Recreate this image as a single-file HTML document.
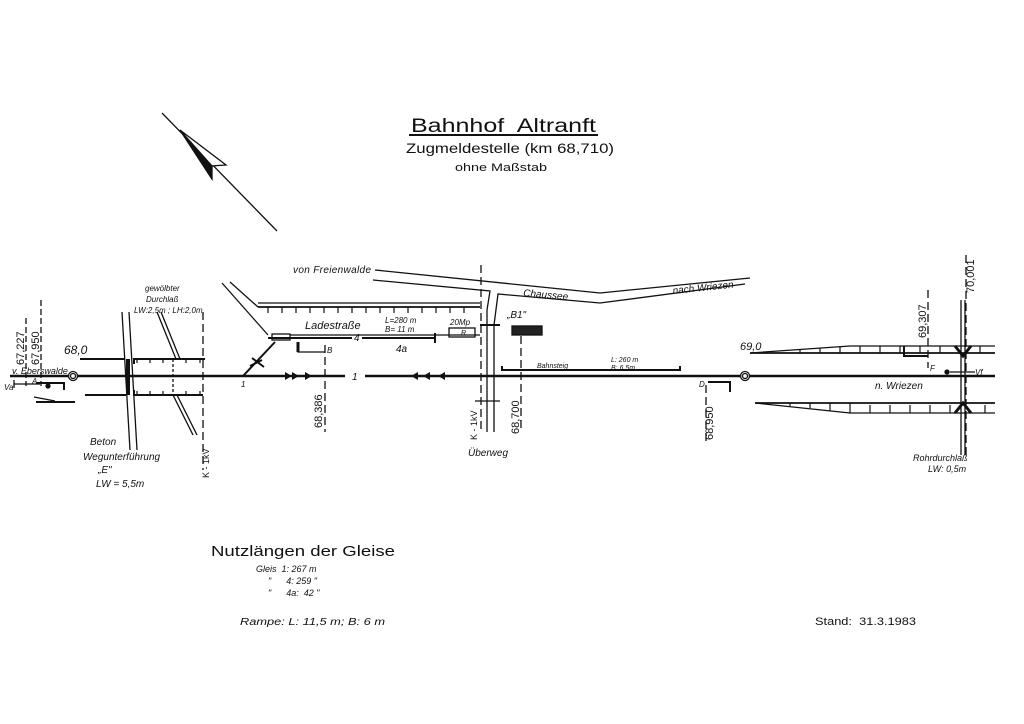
<!DOCTYPE html>
<html><head><meta charset="utf-8"><style>
html,body{margin:0;padding:0;background:#fff;}
svg{display:block;}
text{font-family:"Liberation Sans",sans-serif;fill:#111;white-space:pre;}
.i{font-style:italic;}
</style></head><body>
<svg width="1024" height="724" viewBox="0 0 1024 724" xmlns="http://www.w3.org/2000/svg" xml:space="preserve">
<g stroke="#111" fill="none" stroke-width="1.3">
<line x1="162" y1="113" x2="277" y2="231"/>
<polygon points="180,130 226,165 211,166 212,179" fill="#fff"/>
<polygon points="180,130 212,166 212,179" fill="#111"/>
<line x1="10" y1="376" x2="345" y2="376" stroke-width="2.6"/>
<line x1="365" y1="376" x2="995" y2="376" stroke-width="2.6"/>
<line x1="268" y1="338" x2="352" y2="338" stroke-width="2"/>
<line x1="362" y1="338" x2="435" y2="338" stroke-width="2"/>
<line x1="435" y1="333" x2="435" y2="343" stroke-width="2"/>
<line x1="243" y1="376" x2="275" y2="342" stroke-width="2"/>
<line x1="250" y1="366" x2="262" y2="360" stroke-width="2"/>
<line x1="252" y1="358" x2="264" y2="367" stroke-width="2"/>
<line x1="290" y1="335" x2="480" y2="335"/>
<line x1="258" y1="307" x2="480" y2="307" stroke-width="1.8"/>
<line x1="258" y1="303" x2="480" y2="303"/>
<line x1="222" y1="283" x2="268" y2="335"/>
<line x1="230" y1="282" x2="258" y2="307"/>
<rect x="272" y="334" width="18" height="6"/>
<path d="M298 342 V352 H325"/>
<path d="M298 342 V352" stroke-width="3"/>
<polyline points="375,270 600,293 750,278"/>
<polyline points="373,280 490,291 487,310"/>
<polyline points="745,284 600,303 498,294 494,325 494,432"/>
<line x1="487" y1="310" x2="487" y2="432"/>
<line x1="481" y1="265" x2="481" y2="432" stroke-dasharray="8,4"/>
<line x1="480" y1="325" x2="500" y2="325" stroke-width="2"/>
<line x1="475" y1="401" x2="500" y2="401"/>
<rect x="449" y="328" width="26" height="9"/>
<rect x="512" y="326" width="30" height="9" fill="#222"/>
<line x1="521" y1="336" x2="521" y2="430" stroke-dasharray="8,4"/>
<path d="M502 366 V370 H680 V366" stroke-width="2"/>
<line x1="325" y1="345" x2="325" y2="432" stroke-dasharray="8,4"/>
<line x1="706" y1="385" x2="706" y2="442" stroke-dasharray="8,4"/>
<path d="M708 382 H730 V392" stroke-width="2"/>
<line x1="928" y1="290" x2="928" y2="368" stroke-dasharray="8,4"/>
<line x1="966" y1="255" x2="966" y2="455" stroke-dasharray="8,4"/>
<line x1="26" y1="318" x2="26" y2="386" stroke-dasharray="6,3"/>
<line x1="41" y1="300" x2="41" y2="386" stroke-dasharray="6,3"/>
<line x1="203" y1="312" x2="203" y2="470" stroke-dasharray="8,4"/>
<path d="M14 384 H40"/><line x1="14" y1="380" x2="14" y2="388"/>
<path d="M36 383 H64 V390" stroke-width="2"/>
<circle cx="48" cy="386" r="2" fill="#111"/>
<path d="M36 402 H75" stroke-width="2"/>
<path d="M34 397 L55 401"/>
<circle cx="73" cy="376" r="4.5" fill="#fff"/>
<circle cx="73" cy="376" r="2.5"/>
<circle cx="745" cy="376" r="4.5" fill="#fff"/>
<circle cx="745" cy="376" r="2.5"/>
<line x1="122" y1="312" x2="130" y2="450"/>
<line x1="129" y1="312" x2="137" y2="450"/>
<line x1="80" y1="359" x2="125" y2="359" stroke-width="2"/>
<line x1="85" y1="395" x2="126" y2="395" stroke-width="2"/>
<path d="M134 364 V359 H205" stroke-width="2"/>
<path d="M134 390 V395 H203" stroke-width="2"/>
<line x1="128" y1="359" x2="128" y2="395" stroke-width="4"/>
<line x1="157" y1="312" x2="176" y2="359"/>
<line x1="161" y1="312" x2="180" y2="359"/>
<line x1="173" y1="395" x2="193" y2="435"/>
<line x1="177" y1="395" x2="197" y2="435"/>
<line x1="173" y1="359" x2="173" y2="395" stroke-dasharray="3,2"/>
<path d="M750 353 L850 346 H995"/>
<line x1="750" y1="353" x2="995" y2="353" stroke-width="1.8"/>
<path d="M755 403 L850 413 H995"/>
<line x1="755" y1="403" x2="995" y2="403" stroke-width="1.8"/>
<line x1="961" y1="300" x2="961" y2="455"/>
<line x1="965" y1="300" x2="965" y2="455"/>
<path d="M955 346 L963 356 L971 346" stroke-width="3"/>
<path d="M955 413 L963 403 L971 413" stroke-width="3"/>
<path d="M904 346 V356 H928" stroke-width="2"/>
<line x1="950" y1="372" x2="975" y2="372"/>
<circle cx="947" cy="372" r="2" fill="#111"/>
</g>
<g stroke="#111" stroke-width="1.2">
<path d="M268 307v6M282 307v6M296 307v6M310 307v6M324 307v6M338 307v6M352 307v6M366 307v6M380 307v6M394 307v6M408 307v6M422 307v6M436 307v6M450 307v6M464 307v6"/>
<path d="M800 350v3M820 348v5M840 346v7M860 346v7M880 346v7M900 346v7M920 346v7M940 346v7M980 346v7"/>
<path d="M790 406v-3M810 408v-5M830 411v-8M850 413v-10M870 413v-8M890 413v-8M910 413v-8M930 413v-8M950 413v-8M985 413v-8"/>
<path d="M137 359v4M150 359v4M163 359v4M186 359v4M200 359v4M137 395v-4M150 395v-4M163 395v-4M186 395v-4M200 395v-4"/>
</g>
<g fill="#111">
<polygon points="285,372 292,376 285,380"/><polygon points="292,372 299,376 292,380"/><polygon points="305,372 312,376 305,380"/>
<polygon points="445,372 438,376 445,380"/><polygon points="430,372 423,376 430,380"/><polygon points="418,372 411,376 418,380"/>
</g>
<text x="411" y="132" font-size="19" textLength="185" lengthAdjust="spacingAndGlyphs">Bahnhof  Altranft</text>
<line x1="409" y1="135" x2="598" y2="135" stroke="#111" stroke-width="2"/>
<text x="406" y="153" font-size="14" textLength="208" lengthAdjust="spacingAndGlyphs">Zugmeldestelle (km 68,710)</text>
<text x="455" y="171" font-size="11" textLength="92" lengthAdjust="spacingAndGlyphs">ohne Maßstab</text>
<g class="i">
<text x="293" y="273" font-size="10" class="i" textLength="78">von Freienwalde</text>
<text x="523" y="296" font-size="10" class="i" transform="rotate(5 523 296)">Chaussee</text>
<text x="673" y="294" font-size="10" class="i" transform="rotate(-6 673 294)">nach Wriezen</text>
<text x="305" y="329" font-size="11" class="i">Ladestraße</text>
<text x="385" y="323" font-size="8" class="i">L=280 m</text>
<text x="385" y="332" font-size="8" class="i">B= 11 m</text>
<text x="450" y="325" font-size="8" class="i">20Mp</text>
<text x="461" y="335" font-size="7">R</text>
<text x="507" y="318" font-size="10" class="i">„B1"</text>
<text x="354" y="341" font-size="10">4</text>
<text x="396" y="352" font-size="10" class="i">4a</text>
<text x="327" y="353" font-size="8" class="i">B</text>
<text x="352" y="380" font-size="10">1</text>
<text x="241" y="387" font-size="8" class="i">1</text>
<text x="537" y="368" font-size="7">Bahnsteig</text>
<text x="611" y="362" font-size="7" class="i">L: 260 m</text>
<text x="611" y="370" font-size="7" class="i">B: 6,5m</text>
<text x="699" y="387" font-size="8" class="i">D</text>
<text x="930" y="371" font-size="8" class="i">F</text>
<text x="975" y="375" font-size="8" class="i">Vf</text>
<text x="875" y="389" font-size="10" class="i">n. Wriezen</text>
<text x="740" y="350" font-size="11">69,0</text>
<text x="64" y="354" font-size="12">68,0</text>
<text x="12" y="374" font-size="9" class="i">v. Eberswalde</text>
<text x="4" y="390" font-size="8" class="i">Va</text>
<text x="32" y="384" font-size="8" class="i">A</text>
<text x="145" y="291" font-size="8" class="i">gewölbter</text>
<text x="146" y="302" font-size="8" class="i">Durchlaß</text>
<text x="134" y="313" font-size="8" class="i">LW:2,5m ; LH:2,0m</text>
<text x="90" y="445" font-size="10" class="i">Beton</text>
<text x="83" y="460" font-size="10" class="i">Wegunterführung</text>
<text x="98" y="473" font-size="10" class="i">„E"</text>
<text x="96" y="487" font-size="10" class="i">LW = 5,5m</text>
<text x="468" y="456" font-size="10" class="i">Überweg</text>
<text x="913" y="461" font-size="9" class="i">Rohrdurchlaß</text>
<text x="928" y="472" font-size="9" class="i">LW: 0,5m</text>
</g>
<g font-size="11">
<text transform="translate(24 365) rotate(-90)">67,227</text>
<text transform="translate(39 365) rotate(-90)">67,950</text>
<text transform="translate(209 478) rotate(-90)" font-size="9">K - 1kV</text>
<text transform="translate(322 428) rotate(-90)">68,386</text>
<text transform="translate(477 440) rotate(-90)" font-size="9">K - 1kV</text>
<text transform="translate(519 434) rotate(-90)">68,700</text>
<text transform="translate(713 440) rotate(-90)">68,950</text>
<text transform="translate(926 338) rotate(-90)">69,307</text>
<text transform="translate(974 293) rotate(-90)">70,001</text>
</g>
<text x="211" y="556" font-size="15" textLength="184" lengthAdjust="spacingAndGlyphs">Nutzlängen der Gleise</text>
<g class="i" font-size="9">
<text x="256" y="572">Gleis  1: 267 m</text>
<text x="268" y="584">"      4: 259 "</text>
<text x="268" y="596">"      4a:  42 "</text>
<text x="240" y="625" font-size="10" textLength="145" lengthAdjust="spacingAndGlyphs">Rampe: L: 11,5 m; B: 6 m</text>
</g>
<text x="815" y="625" font-size="11" textLength="101" lengthAdjust="spacingAndGlyphs">Stand:  31.3.1983</text>
</svg>
</body></html>
